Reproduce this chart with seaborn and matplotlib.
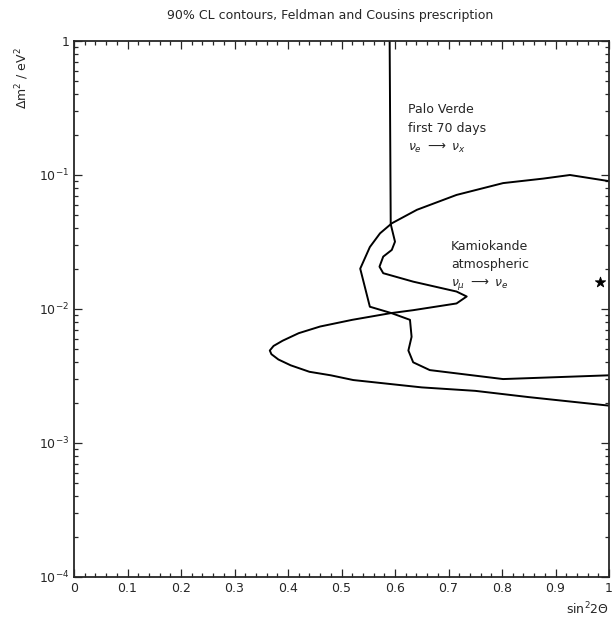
import matplotlib
matplotlib.use('AGG')

import matplotlib.pyplot as plt
import seaborn as sns
from matplotlib.ticker import FixedLocator, FixedFormatter, MultipleLocator

# Palo Verde 90% CL contour (first 70 days)
palo_x = [0.59, 0.592, 0.600, 0.594, 0.578, 0.571, 0.578, 0.634, 0.715, 0.734,
          0.715, 0.634, 0.591, 0.52, 0.46, 0.42, 0.39, 0.373, 0.366, 0.369,
          0.382, 0.405, 0.44, 0.48, 0.522, 0.65, 0.75, 0.85, 1.0]
palo_y = [1.0, 0.043, 0.0318, 0.0276, 0.0246, 0.0207, 0.0185, 0.016, 0.0135, 0.0124,
          0.011, 0.0098, 0.0093, 0.0083, 0.0074, 0.0066, 0.0058, 0.0053, 0.0049, 0.0046,
          0.0042, 0.0038, 0.0034, 0.0032, 0.00295, 0.0026, 0.00245, 0.0022, 0.0019]

# Kamiokande atmospheric contour
kam_x = [1.0, 0.927, 0.877, 0.802, 0.715, 0.641, 0.594, 0.572, 0.553, 0.535,
         0.553, 0.594, 0.628, 0.631, 0.625, 0.634, 0.665, 0.802, 1.0]
kam_y = [0.09, 0.1, 0.094, 0.087, 0.071, 0.055, 0.0436, 0.0367, 0.029, 0.020,
         0.0104, 0.0093, 0.0083, 0.0062, 0.0049, 0.0040, 0.0035, 0.0030, 0.0032]

# Kamiokande best fit
star_x = [0.984]
star_y = [0.016]

x_ticks = [0, 0.1, 0.2, 0.3, 0.4, 0.5, 0.6, 0.7, 0.8, 0.9, 1]
x_labels = ['0', '0.1', '0.2', '0.3', '0.4', '0.5', '0.6', '0.7', '0.8', '0.9', '1']
y_ticks = [1e-4, 1e-3, 1e-2, 1e-1, 1]
y_labels = [r'$10^{-4}$', r'$10^{-3}$', r'$10^{-2}$', r'$10^{-1}$', '1']

sns.set_style('ticks')
plt.rcParams['font.family'] = ['DejaVu Sans']
plt.rcParams['mathtext.fontset'] = 'dejavusans'

fig = plt.figure(figsize=(6.14, 6.17), dpi=100)
ax = fig.add_axes([74 / 614, 1 - 577 / 617, 535 / 614, 536 / 617])

sns.lineplot(x=palo_x, y=palo_y, sort=False, estimator=None, color='black', lw=1.4, ax=ax)
sns.lineplot(x=kam_x, y=kam_y, sort=False, estimator=None, color='black', lw=1.4, ax=ax)
sns.scatterplot(x=star_x, y=star_y, marker='*', s=60, color='black', edgecolor='black', ax=ax)

ax.set_yscale('log')
ax.set_xlim(0, 1)
ax.set_ylim(1e-4, 1)

ax.xaxis.set_major_locator(FixedLocator(x_ticks))
ax.xaxis.set_major_formatter(FixedFormatter(x_labels))
ax.xaxis.set_minor_locator(MultipleLocator(0.02))
ax.yaxis.set_major_locator(FixedLocator(y_ticks))
ax.yaxis.set_major_formatter(FixedFormatter(y_labels))

ax.tick_params(which='both', direction='in', top=True, right=True, labelsize=9, width=0.9)
ax.tick_params(which='major', length=6)
ax.tick_params(which='minor', length=3)
for sp in ax.spines.values():
    sp.set_linewidth(1.3)

ax.set_xlabel(r'sin$^2$2$\Theta$', loc='right', fontsize=9)
fig.text(22 / 614, 1 - 78 / 617, r'$\Delta$m$^2$ / eV$^2$', rotation=90,
         ha='center', va='center', fontsize=9)

ax.text(0.625, 0.22, 'Palo Verde\nfirst 70 days\n' + r'$\nu_e\ \longrightarrow\ \nu_x$',
        fontsize=9, va='center', ha='left', linespacing=1.6)
ax.text(0.705, 0.021, 'Kamiokande\natmospheric\n' + r'$\nu_\mu\ \longrightarrow\ \nu_e$',
        fontsize=9, va='center', ha='left', linespacing=1.5)

fig.text(0.537, 1 - 16 / 617, '90% CL contours, Feldman and Cousins prescription',
         ha='center', va='center', fontsize=9)

fig.savefig('out.png', dpi=100)
